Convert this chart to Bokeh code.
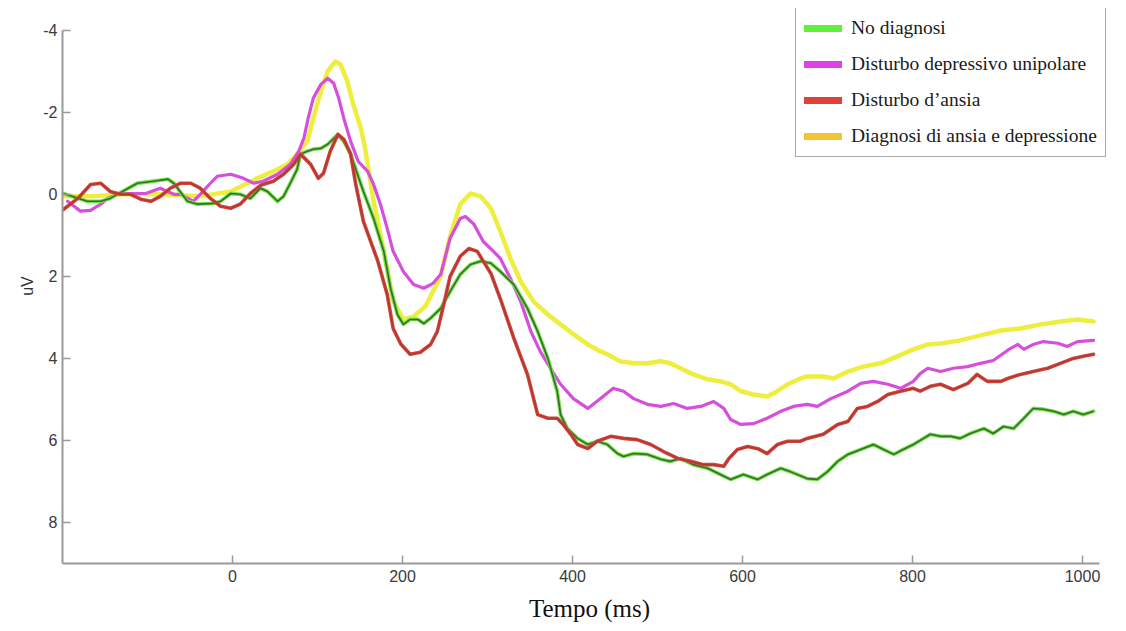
from bokeh.plotting import figure
from bokeh.models import Range1d, FixedTicker
from bokeh.embed import file_html
from bokeh.resources import INLINE

# ---- data (time in ms, amplitude in uV) ----
green_t = [-199,-171,-155,-144,-112,-93,-76,-69,-53,-41,-22,-14,-2,9,21,33,41,53,60,68,
           76,80,88,95,104,112,124,131,139,147,154,166,178,186,194,201,209,218,225,233,
           245,256,268,280,292,304,315,331,347,359,371,382,386,394,406,418,429,441,453,460,
           472,488,504,515,527,542,559,574,586,601,618,629,645,656,676,688,700,712,724,739,
           754,766,778,789,801,813,821,833,845,856,868,884,895,907,919,931,942,954,966,978,
           989,1001,1013]
green_v = [-0.02,0.17,0.17,0.10,-0.27,-0.32,-0.37,-0.27,0.17,0.24,0.22,0.17,-0.02,0.0,0.10,-0.15,-0.07,0.17,0.05,-0.27,
           -0.61,-0.98,-1.05,-1.10,-1.12,-1.22,-1.46,-1.29,-0.98,-0.49,-0.07,0.59,1.39,2.29,2.93,3.17,3.05,3.05,3.15,3.02,
           2.78,2.37,1.95,1.71,1.63,1.68,1.88,2.20,2.78,3.34,4.00,4.80,5.37,5.71,5.95,6.10,6.02,6.10,6.32,6.39,
           6.32,6.34,6.46,6.51,6.44,6.59,6.68,6.83,6.95,6.83,6.95,6.83,6.68,6.76,6.93,6.95,6.76,6.51,6.34,6.22,
           6.10,6.22,6.34,6.22,6.10,5.95,5.85,5.90,5.90,5.95,5.83,5.71,5.83,5.66,5.71,5.46,5.22,5.24,5.29,5.37,
           5.29,5.37,5.29]

red_t = [-199,-182,-167,-155,-144,-132,-120,-108,-96,-85,-73,-61,-49,-38,-26,-14,-2,9,21,33,
         48,60,72,80,92,101,107,115,124,131,139,145,154,171,182,189,198,209,221,233,
         241,248,256,268,278,288,295,304,315,331,347,359,371,382,389,398,406,418,429,445,
         460,476,492,507,524,539,554,566,578,584,594,606,618,629,641,653,668,676,695,712,
         724,735,747,759,771,786,801,809,821,833,848,865,876,888,904,912,927,942,959,974,
         989,1001,1013]
red_v = [0.37,0.10,-0.24,-0.27,-0.07,0.0,0.0,0.12,0.17,0.05,-0.15,-0.27,-0.27,-0.15,0.10,0.29,0.34,0.24,-0.02,-0.22,
         -0.32,-0.49,-0.73,-0.98,-0.73,-0.39,-0.51,-1.05,-1.46,-1.34,-0.98,-0.24,0.66,1.63,2.44,3.27,3.65,3.90,3.85,3.66,
         3.34,2.73,2.00,1.51,1.32,1.39,1.63,1.93,2.54,3.51,4.39,5.37,5.46,5.46,5.61,5.85,6.10,6.20,6.02,5.90,
         5.95,5.98,6.10,6.27,6.44,6.51,6.59,6.59,6.63,6.44,6.22,6.15,6.20,6.32,6.10,6.02,6.02,5.95,5.85,5.61,
         5.54,5.22,5.17,5.05,4.88,4.80,4.73,4.80,4.68,4.63,4.76,4.61,4.39,4.56,4.56,4.49,4.39,4.32,4.24,4.12,
         4.00,3.95,3.90]

mag_t = [-194,-179,-167,-155,-147,-135,-120,-102,-85,-69,-61,-46,-38,-26,-18,-2,13,25,36,53,
         68,78,84,89,95,104,112,119,125,131,139,148,159,166,174,182,189,201,213,225,
         236,245,256,268,274,284,295,307,315,327,339,351,362,374,386,401,418,433,448,460,
         472,488,504,519,535,551,566,578,586,598,613,629,645,660,676,688,704,724,739,754,
         771,786,801,809,818,833,848,865,880,895,915,924,931,942,954,971,982,994,1013]
mag_v = [0.17,0.41,0.39,0.24,0.10,0.0,-0.02,-0.02,-0.15,0.0,0.0,0.17,0.0,-0.27,-0.44,-0.49,-0.39,-0.27,-0.32,-0.49,
         -0.73,-1.05,-1.37,-1.85,-2.34,-2.68,-2.83,-2.71,-2.34,-1.85,-1.29,-0.80,-0.56,-0.24,0.24,0.83,1.39,1.88,2.20,2.29,
         2.17,1.95,1.07,0.59,0.54,0.73,1.15,1.39,1.56,2.05,2.61,3.34,3.83,4.24,4.63,4.98,5.22,4.98,4.73,4.80,
         4.98,5.12,5.17,5.10,5.22,5.17,5.05,5.22,5.49,5.61,5.59,5.46,5.29,5.17,5.12,5.17,4.98,4.80,4.61,4.56,
         4.63,4.73,4.56,4.37,4.24,4.32,4.24,4.20,4.12,4.05,3.76,3.66,3.78,3.66,3.59,3.63,3.71,3.59,3.56]

yel_t = [-199,-167,-128,-85,-38,-2,29,48,65,76,88,95,104,112,121,127,135,142,151,156,
         166,178,189,201,213,227,245,256,268,280,292,304,315,327,339,354,371,386,401,418,
         433,441,456,472,488,504,515,527,542,559,574,586,598,613,629,641,653,668,676,695,
         707,724,742,762,782,801,818,836,856,880,904,927,951,974,994,1013]
yel_v = [0.05,0.05,0.0,0.0,0.05,-0.07,-0.39,-0.56,-0.73,-0.98,-1.29,-1.85,-2.51,-3.00,-3.24,-3.17,-2.76,-2.20,-1.61,-1.12,
         0.17,1.39,2.61,3.05,2.98,2.73,2.00,1.02,0.24,-0.02,0.05,0.34,0.90,1.56,2.12,2.61,2.93,3.17,3.41,3.66,
         3.83,3.90,4.07,4.12,4.12,4.07,4.12,4.24,4.39,4.51,4.56,4.63,4.80,4.88,4.93,4.80,4.63,4.49,4.44,4.44,
         4.49,4.32,4.20,4.12,3.95,3.78,3.66,3.63,3.56,3.44,3.32,3.27,3.17,3.10,3.05,3.10]

legend_labels = ["No diagnosi", "Disturbo depressivo unipolare",
                 "Disturbo d\u2019ansia", "Diagnosi di ansia e depressione"]
legend_colors = ["#5ff03c", "#e040e8", "#e0403a", "#f3c532"]
x_ticks = [0, 200, 400, 600, 800, 1000]
y_ticks = [-4, -2, 0, 2, 4, 6, 8]

p = figure(width=1126, height=631, output_backend="svg", toolbar_location=None,
           x_range=Range1d(-200, 1040), y_range=Range1d(9, -4.53),
           min_border_left=62, min_border_right=10, min_border_top=8, min_border_bottom=68)
p.outline_line_color = None
p.xgrid.visible = False
p.ygrid.visible = False
p.background_fill_color = "white"
p.border_fill_color = "white"

# curves
p.line(yel_t, yel_v, line_color="#eeee3e", line_width=4.5, line_join="round", line_cap="round")
p.line(mag_t, mag_v, line_color="#d64fdc", line_width=3.2, line_join="round", line_cap="round")
p.line(green_t, green_v, line_color="#6ee645", line_width=3.8, line_join="round", line_cap="round")
p.line(green_t, green_v, line_color="#2e4a28", line_width=1.6, line_alpha=0.8, line_join="round")
p.line(red_t, red_v, line_color="#d0453c", line_width=3.6, line_join="round", line_cap="round")
p.line(red_t, red_v, line_color="#8a2a22", line_width=1.2, line_alpha=0.5, line_join="round")

# legend-only renderers (a single NaN point, so nothing is drawn in the plot)
nan = float("nan")
for lab, col in zip(legend_labels, legend_colors):
    p.line([nan], [nan], line_color=col, line_width=7, line_cap="round", legend_label=lab)

lg = p.legend[0]
lg.location = (733, 406)
lg.label_text_font = "Liberation Serif"
lg.label_text_font_size = "19.5px"
lg.label_text_color = "#1a1a1a"
lg.border_line_color = "#555555"
lg.border_line_width = 1.5
lg.background_fill_color = "white"
lg.background_fill_alpha = 1.0
lg.padding = 8
lg.margin = 0
lg.spacing = 12
lg.label_height = 24
lg.glyph_height = 24
lg.glyph_width = 38
lg.label_standoff = 9

# axes
for ax in (p.xaxis[0], p.yaxis[0]):
    ax.axis_line_color = "#9a9a9a"
    ax.axis_line_width = 2
    ax.major_tick_line_color = "#9a9a9a"
    ax.major_tick_line_width = 1.5
    ax.major_tick_in = 8
    ax.major_tick_out = 0
    ax.minor_tick_line_color = None
    ax.major_label_text_font = "Liberation Sans"
    ax.major_label_text_font_size = "16px"
    ax.major_label_text_color = "#3a3a3a"

p.xaxis.bounds = (-200, 1020)
p.yaxis.bounds = (-4, 9)
p.xaxis.ticker = FixedTicker(ticks=x_ticks)
p.yaxis.ticker = FixedTicker(ticks=y_ticks)
p.yaxis.major_label_overrides = {t: str(t) for t in y_ticks}
p.xaxis.major_label_standoff = 6
p.yaxis.major_label_standoff = 5

p.xaxis.axis_label = "Tempo (ms)"
p.xaxis.axis_label_text_font = "Liberation Serif"
p.xaxis.axis_label_text_font_size = "25px"
p.xaxis.axis_label_text_font_style = "normal"
p.xaxis.axis_label_text_color = "#111111"
p.xaxis.axis_label_standoff = 10

p.yaxis.axis_label = "uV"
p.yaxis.axis_label_text_font = "Liberation Sans"
p.yaxis.axis_label_text_font_size = "16px"
p.yaxis.axis_label_text_font_style = "normal"
p.yaxis.axis_label_text_color = "#333333"
p.yaxis.axis_label_standoff = 4

open("out.html", "w").write(file_html(p, INLINE))
